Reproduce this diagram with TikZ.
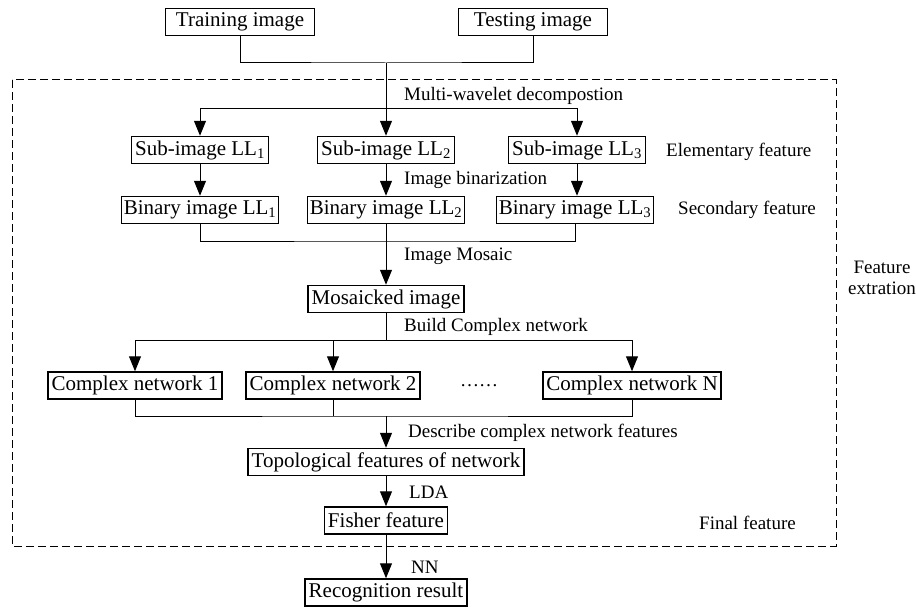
\documentclass[tikz,border=0pt]{standalone}
\usepackage{fontspec}
\setmainfont{Liberation Serif}
\usetikzlibrary{arrows.meta}
\begin{document}
\begin{tikzpicture}[x=1pt,y=-1pt,
  box/.style={draw, line width=1.5pt, inner xsep=3.5pt, inner ysep=2pt, minimum height=27pt,
    font=\fontsize{21}{24}\selectfont},
  topbox/.style={box, minimum width=149pt},
  lbl/.style={anchor=west, inner sep=0pt, font=\fontsize{19}{22}\selectfont},
  conn/.style={line width=1pt},
  arr/.style={line width=1pt, -{Triangle[width=12pt,length=15pt]}},
  frame/.style={line width=1pt, dash pattern=on 8pt off 4pt}]
\useasboundingbox (0,0) rectangle (916,610);
% nodes
\node[topbox] (tr) at (240,22) {Training image};
\node[topbox] (te) at (533,22) {Testing image};
\node[box] (s1) at (200,150) {Sub-image LL\textsubscript{1}};
\node[box] (s2) at (386,150) {Sub-image LL\textsubscript{2}};
\node[box] (s3) at (577,150) {Sub-image LL\textsubscript{3}};
\node[box, inner xsep=2.5pt] (b1) at (200,210) {Binary image LL\textsubscript{1}};
\node[box, inner xsep=2.5pt] (b2) at (386,210) {Binary image LL\textsubscript{2}};
\node[box, inner xsep=2.5pt] (b3) at (575,210) {Binary image LL\textsubscript{3}};
\node[box] (mo) at (386,299) {Mosaicked image};
\node[box] (c1) at (135,385.5) {Complex network 1};
\node[box] (c2) at (333,385.5) {Complex network 2};
\node[box] (cN) at (632,385.5) {Complex network N};
\node[box] (topo) at (386,462) {Topological features of network};
\node[box] (fi) at (386,520.5) {Fisher feature};
\node[box] (re) at (386,592.5) {Recognition result};
% coordinates
\coordinate (j1) at (386,63);
\coordinate (d1) at (386,108);
\coordinate (j3) at (386,241);
\coordinate (j4) at (386,340);
\coordinate (j5) at (386,416);
% frame
\draw[frame] (12,80) rectangle (836,546);
% connectors
\draw[conn] (tr.south) |- (j1) -| (te.south);
\draw[conn] (j1) -- (d1);
\draw[arr] (d1) -| (s1.north);
\draw[arr] (d1) -- (s2.north);
\draw[arr] (d1) -| (s3.north);
\draw[arr] (s1) -- (b1);
\draw[arr] (s2) -- (b2);
\draw[arr] (s3.south) -- (s3.south |- b3.north);
\draw[conn] (b1.south) |- (j3) -| (b3.south);
\draw[arr] (b2.south) -- (mo.north);
\draw[conn] (mo.south) -- (j4);
\draw[arr] (j4) -| (c1.north);
\draw[arr] (j4) -| (c2.north);
\draw[arr] (j4) -| (cN.north);
\draw[conn] (c1.south) |- (j5) -| (cN.south);
\draw[conn] (c2.south) -- (c2.south |- j5);
\draw[arr] (j5) -- (topo.north);
\draw[arr] (topo) -- (fi);
\draw[arr] (fi) -- (re);
% labels
\node[lbl] (l1) at (404,96) {Multi-wavelet decompostion};
\node[lbl] (l2) at (404,180) {Image binarization};
\node[lbl] (l3) at (404,256) {Image Mosaic};
\node[lbl] (l4) at (404,327) {Build Complex network};
\node[lbl] (l5) at (408,433) {Describe complex network features};
\node[lbl] (l6) at (409,492) {LDA};
\node[lbl] (l7) at (411,567) {NN};
\node[lbl] (l8) at (666,152) {Elementary feature};
\node[lbl] (l9) at (678,210) {Secondary feature};
\node[lbl] (l10) at (699,523) {Final feature};
\node[inner sep=0pt, align=center, font=\fontsize{19}{21}\selectfont] (l11) at (882,278) {Feature\\extration};
\node[lbl] (dots) at (460,386) {……};
\end{tikzpicture}
\end{document}
